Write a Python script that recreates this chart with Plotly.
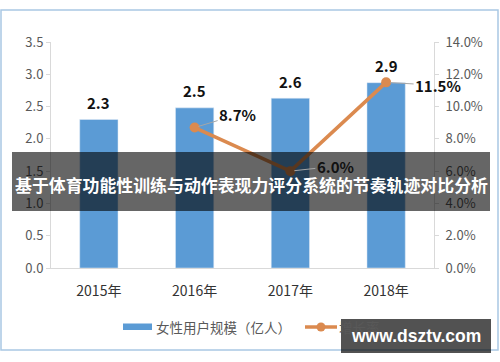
import plotly.graph_objects as go

years = ["2015年", "2016年", "2017年", "2018年"]
users = [2.3, 2.48, 2.63, 2.87]           # 女性用户规模（亿人）
user_labels = ["2.3", "2.5", "2.6", "2.9"]
growth = [None, 0.087, 0.060, 0.115]      # 增长率
growth_labels = [None, "8.7%", "6.0%", "11.5%"]

W, H = 500, 362
L, R, T, B = 51, 434, 42, 268

def px(x):
    return (x - L) / (R - L)

def py(y):
    return (B - y) / (B - T)

BLUE = "#5B9BD5"
ORANGE = "#DB8A4F"
GRAY = "#595959"
FONT = "Noto Sans CJK SC"

fig = go.Figure()
fig.add_trace(go.Bar(x=years, y=users, marker_color=BLUE, name="女性用户规模（亿人）",
                     showlegend=False, hoverinfo="skip"))
fig.add_trace(go.Scatter(x=years, y=growth, yaxis="y2", mode="lines+markers",
                         line=dict(color=ORANGE, width=3.5),
                         marker=dict(color=ORANGE, size=10), name="增长率",
                         showlegend=False, cliponaxis=False, hoverinfo="skip"))

ann = []
for x, v, t in zip(years, users, user_labels):
    ann.append(dict(x=x, y=v, text=f"<b>{t}</b>", showarrow=False, yshift=17,
                    font=dict(size=15, color="#111111", family=FONT)))
offsets = {1: (43, -13), 2: (45, -5), 3: (52, 3)}
for i, (x, v, t) in enumerate(zip(years, growth, growth_labels)):
    if v is None:
        continue
    ax, ay = offsets[i]
    ann.append(dict(x=x, y=v, yref="y2", text=f"<b>{t}</b>", showarrow=True,
                    arrowhead=0, arrowwidth=1, arrowcolor="#A6A6A6", ax=ax, ay=ay,
                    standoff=4,
                    font=dict(size=15, color="#111111", family=FONT)))

# legend (custom)
ann.append(dict(xref="paper", yref="paper", x=px(154), y=py(327), xanchor="left",
                yanchor="middle", showarrow=False, text="女性用户规模（亿人）",
                font=dict(size=13.5, color=GRAY, family=FONT)))
ann.append(dict(xref="paper", yref="paper", x=px(337), y=py(327), xanchor="left",
                yanchor="middle", showarrow=False, text="增长率",
                font=dict(size=13.5, color=GRAY, family=FONT)))
# overlay banner text
ann.append(dict(xref="paper", yref="paper", x=px(251), y=py(184), xanchor="center",
                yanchor="middle", showarrow=False,
                text="<b>基于体育功能性训练与动作表现力评分系统的节奏轨迹对比分析</b>",
                font=dict(size=16.9, color="white", family=FONT)))
# watermark text
ann.append(dict(xref="paper", yref="paper", x=px(416), y=py(336), xanchor="center",
                yanchor="middle", showarrow=False, text="<b>www.dsztv.com</b>",
                font=dict(size=17.5, color="white", family="Liberation Sans")))

shapes = [
    dict(type="rect", xref="paper", yref="paper", x0=px(1), x1=px(498), y0=py(10), y1=py(350),
         line=dict(color="#A9C8E4", width=1.5), fillcolor="rgba(0,0,0,0)", layer="below"),
    dict(type="rect", xref="paper", yref="paper", x0=px(123), x1=px(152), y0=py(323.5), y1=py(330),
         line=dict(width=0), fillcolor=BLUE),
    dict(type="line", xref="paper", yref="paper", x0=px(305), x1=px(337), y0=py(327), y1=py(327),
         line=dict(color=ORANGE, width=3.5)),
    dict(type="circle", xref="paper", yref="paper", x0=px(316.5), x1=px(325.5), y0=py(322.5), y1=py(331.5),
         line=dict(width=0), fillcolor=ORANGE),
    dict(type="rect", xref="paper", yref="paper", x0=px(12), x1=px(490), y0=py(152), y1=py(211),
         line=dict(width=0), fillcolor="rgba(0,0,0,0.6)", layer="above"),
    dict(type="rect", xref="paper", yref="paper", x0=px(341), x1=px(491), y0=py(319), y1=py(353),
         line=dict(width=0), fillcolor="rgba(0,0,0,0.68)", layer="above"),
]

fig.update_layout(
    width=W, height=H,
    margin=dict(l=L, r=W - R, t=T, b=H - B, pad=0),
    paper_bgcolor="white", plot_bgcolor="white",
    bargap=0.6, hovermode=False,
    font=dict(family=FONT, color=GRAY, size=13),
    xaxis=dict(range=[-0.5, 3.5], autorange=False, showgrid=False, showline=True,
               linecolor="#D9D9D9", linewidth=1,
               ticks="", tickfont=dict(size=14, color="#333333"), ticklabelstandoff=10),
    yaxis=dict(range=[0, 3.5], autorange=False, dtick=0.5, tickformat=".1f", showgrid=False,
               showline=True, linecolor="#D9D9D9", ticks="outside", ticklen=4,
               tickcolor="#D9D9D9", zeroline=False,
               tickfont=dict(size=13, color=GRAY)),
    yaxis2=dict(range=[0, 0.14], autorange=False, dtick=0.02, tickformat=".1%",
                overlaying="y", side="right",
                showgrid=False, showline=True, linecolor="#D9D9D9", ticks="outside",
                ticklen=4, tickcolor="#D9D9D9", zeroline=False, ticklabelstandoff=4,
                tickfont=dict(size=13, color=GRAY)),
    annotations=ann, shapes=shapes,
)

fig.write_html("out.html", config={"displayModeBar": False, "staticPlot": True},
               post_script="document.body.style.margin='0';document.body.style.overflow='hidden';")
